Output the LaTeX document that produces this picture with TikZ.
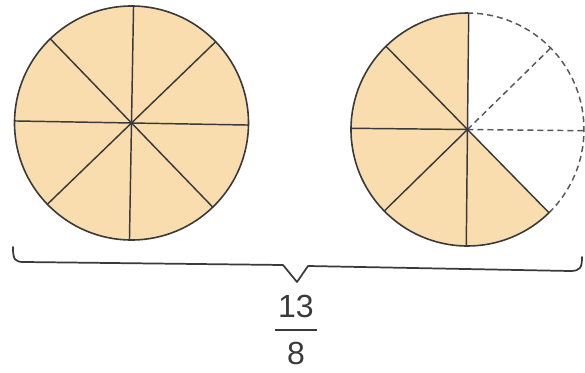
\documentclass[tikz,border=0pt]{standalone}
\usepackage{fontspec}
\setmainfont{Liberation Sans}
\definecolor{fillc}{RGB}{249,221,174}
\definecolor{ink}{RGB}{58,58,58}
\begin{document}
\begin{tikzpicture}[x=0.75pt,y=0.75pt,
 outline/.style={draw=ink,line width=1.2pt},
 divider/.style={draw=ink,line width=1.1pt},
 ghost/.style={draw=ink!85,line width=1.1pt,dash pattern=on 4.5pt off 3pt},
 numtext/.style={text=ink,font=\fontsize{24}{28}\selectfont,inner sep=0pt},
 bracestyle/.style={draw=ink,line width=1.3pt,line join=round,line cap=round}]
\useasboundingbox (0,0) rectangle (585,372);
\coordinate (L) at (131.5,249);
\coordinate (R) at (467.5,242.5);
% left whole circle
\fill[fillc] (L) circle (117);
\begin{scope}[rotate around={-1:(L)}]
\foreach \a in {0,45,...,315} \draw[divider] (L) -- ++(\a:117);
\end{scope}
\draw[outline] (L) circle (117);
% right partial circle
\begin{scope}[rotate around={-0.6:(R)}]
\fill[fillc] (R) -- ++(90:116.5) arc[start angle=90,end angle=315,radius=116.5] -- cycle;
\foreach \a in {0,45} \draw[ghost] (R) -- ++(\a:116.5);
\draw[ghost] (R) ++(315:116.5) arc[start angle=315,end angle=450,radius=116.5];
\foreach \a in {90,135,...,315} \draw[divider] (R) -- ++(\a:116.5);
\draw[outline] (R) ++(90:116.5) arc[start angle=90,end angle=315,radius=116.5];
\end{scope}
% brace
\coordinate (bl) at (13,125);
\coordinate (br) at (582,115);
\coordinate (tip) at (297,90);
\draw[bracestyle] (bl) .. controls (13,112) and (15,110) .. (24,110) -- (283,107) -- (tip) -- (308,106) -- (570,101) .. controls (580,101) and (582,104) .. (br);
% fraction
\node[numtext] (num) at (296,66) {13};
\node[numtext] (den) at (296,18.5) {8};
\coordinate (barl) at (275,42);
\coordinate (barr) at (317,42);
\draw[draw=ink,line width=1.4pt] (barl) -- (barr);
\end{tikzpicture}
\end{document}
